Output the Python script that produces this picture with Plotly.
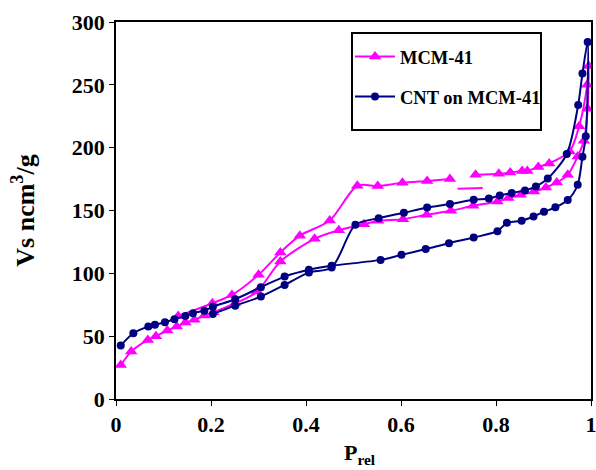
import plotly.graph_objects as go

# MCM-41 (adsorption then desorption loop); None marks the gap in the line
mcm_x = [0.01, 0.032, 0.067, 0.084, 0.108, 0.128, 0.146, 0.165, 0.186, 0.205, 0.25, 0.297,
         0.346, 0.418, 0.469, 0.522, 0.552, 0.604, 0.654, 0.705, 0.752, 0.803, 0.826, 0.852,
         0.880, 0.905, 0.928, 0.951, 0.972, 0.985, 0.993, 0.995,
         0.992, 0.975, 0.955, 0.912, 0.889, 0.866, 0.855, 0.830, 0.806, 0.757, None, 0.703,
         0.655, 0.603, 0.551, 0.508, 0.45, 0.387, 0.346, 0.300, 0.244, 0.203, 0.131]
mcm_y = [27, 37.7, 47, 50, 54.5, 57.6, 60.8, 63, 66.5, 69, 76, 85.5,
         109.4, 127.5, 134.3, 139, 141.8, 143.1, 146.6, 149.8, 153.7, 157.2, 159.9, 162.5,
         165.1, 168.3, 172.3, 178.4, 193, 205.5, 231, 265,
         250, 217, 197, 187.5, 184.7, 181.5, 181.5, 180.2, 179.2, 178.4, None, 175,
         173.5, 172, 169.5, 169.7, 142, 130, 116.6, 98.8, 82.8, 76.2, 66]

# stray short segment of the MCM-41 line
dash_x = [0.719, 0.772]
dash_y = [167.3, 168.0]

# CNT on MCM-41 (adsorption then desorption loop)
cnt_x = [0.01, 0.0365, 0.068, 0.082, 0.103, 0.123, 0.146, 0.162, 0.186, 0.204, 0.251, 0.305,
         0.355, 0.406, 0.454, 0.557, 0.601, 0.652, 0.701, 0.753, 0.803, 0.823, 0.854, 0.879,
         0.901, 0.925, 0.951, 0.972, 0.982, 0.989, 0.993,
         0.982, 0.973, 0.949, 0.909, 0.884, 0.861, 0.833, 0.808, 0.785, 0.753, 0.703, 0.655,
         0.606, 0.553, 0.504, 0.454, 0.406, 0.355, 0.305, 0.251, 0.204]
cnt_y = [42.5, 52.3, 57.6, 59, 61.1, 63.5, 66.1, 68.3, 70.3, 73.5, 79.4, 89,
         97.4, 102.8, 106, 110.7, 114.7, 119.3, 124, 128.5, 133.5, 140.2, 141.9, 145.2,
         149, 152.5, 158.3, 170.5, 192.8, 209, 284,
         259, 234, 195, 175.4, 169.1, 166, 163.9, 162, 159.6, 158.5, 155.1, 152.4,
         148.2, 143.9, 138.6, 104.6, 100.6, 90.8, 81.5, 74.3, 67.7]

x_ticks = [0, 0.2, 0.4, 0.6, 0.8, 1]
x_tick_labels = ["0", "0.2", "0.4", "0.6", "0.8", "1"]
y_ticks = [0, 50, 100, 150, 200, 250, 300]

MAG = "#FF00FF"
NAVY = "#000080"
FONT = "Liberation Serif, Times New Roman, serif"

fig = go.Figure()
fig.add_trace(go.Scatter(
    x=mcm_x, y=mcm_y, name="MCM-41", mode="lines+markers",
    line=dict(color=MAG, width=2, shape="spline", smoothing=0.8),
    marker=dict(symbol="triangle-up", size=11, color=MAG),
    connectgaps=False, legendgroup="a"))
fig.add_trace(go.Scatter(
    x=dash_x, y=dash_y, mode="lines", showlegend=False,
    line=dict(color=MAG, width=2), hoverinfo="skip"))
fig.add_trace(go.Scatter(
    x=cnt_x, y=cnt_y, name="CNT on MCM-41", mode="lines+markers",
    line=dict(color=NAVY, width=2, shape="spline", smoothing=0.8),
    marker=dict(symbol="circle", size=8, color=NAVY),
    legendgroup="b"))

# legend frame
fig.add_shape(type="rect", xref="paper", yref="paper",
              x0=(352 - 116) / 475, x1=(541 - 116) / 475,
              y0=(399 - 130) / 377, y1=(399 - 33) / 377,
              line=dict(color="black", width=2), fillcolor="white", layer="above")

# x-axis title as annotation
fig.add_annotation(text="P<sub>rel</sub>", xref="paper", yref="paper",
                   x=(360 - 116) / 475, y=(399 - 439) / 377,
                   xanchor="center", yanchor="top", showarrow=False, borderpad=0,
                   font=dict(size=22, family=FONT, color="black", weight="bold"))

fig.update_layout(
    width=596, height=470,
    margin=dict(l=116, r=5, t=22, b=71),
    paper_bgcolor="white", plot_bgcolor="white",
    font=dict(family=FONT, size=22, color="black", weight="bold"),
    showlegend=True,
    legend=dict(x=(350 - 116) / 475, y=(399 - 38) / 377, xanchor="left", yanchor="top",
                borderwidth=0, bgcolor="rgba(0,0,0,0)",
                font=dict(size=18.5, family=FONT, color="black", weight="bold"),
                tracegroupgap=13, itemwidth=40),
    xaxis=dict(range=[0, 1], tickvals=x_ticks, ticktext=x_tick_labels, automargin=False,
               ticklabeloverflow="allow",
               showline=True, linecolor="black", linewidth=1.5, mirror=True,
               ticks="outside", ticklen=5, tickcolor="black", showgrid=False, zeroline=False),
    yaxis=dict(range=[0, 300], tickvals=y_ticks, automargin=False,
               ticklabeloverflow="allow",
               showline=True, linecolor="black", linewidth=1.5, mirror=True,
               ticks="outside", ticklen=5, tickcolor="black", showgrid=False, zeroline=False,
               title=dict(text="Vs ncm<sup>3</sup>/g", standoff=30)),
)

fig.write_html("out.html")
